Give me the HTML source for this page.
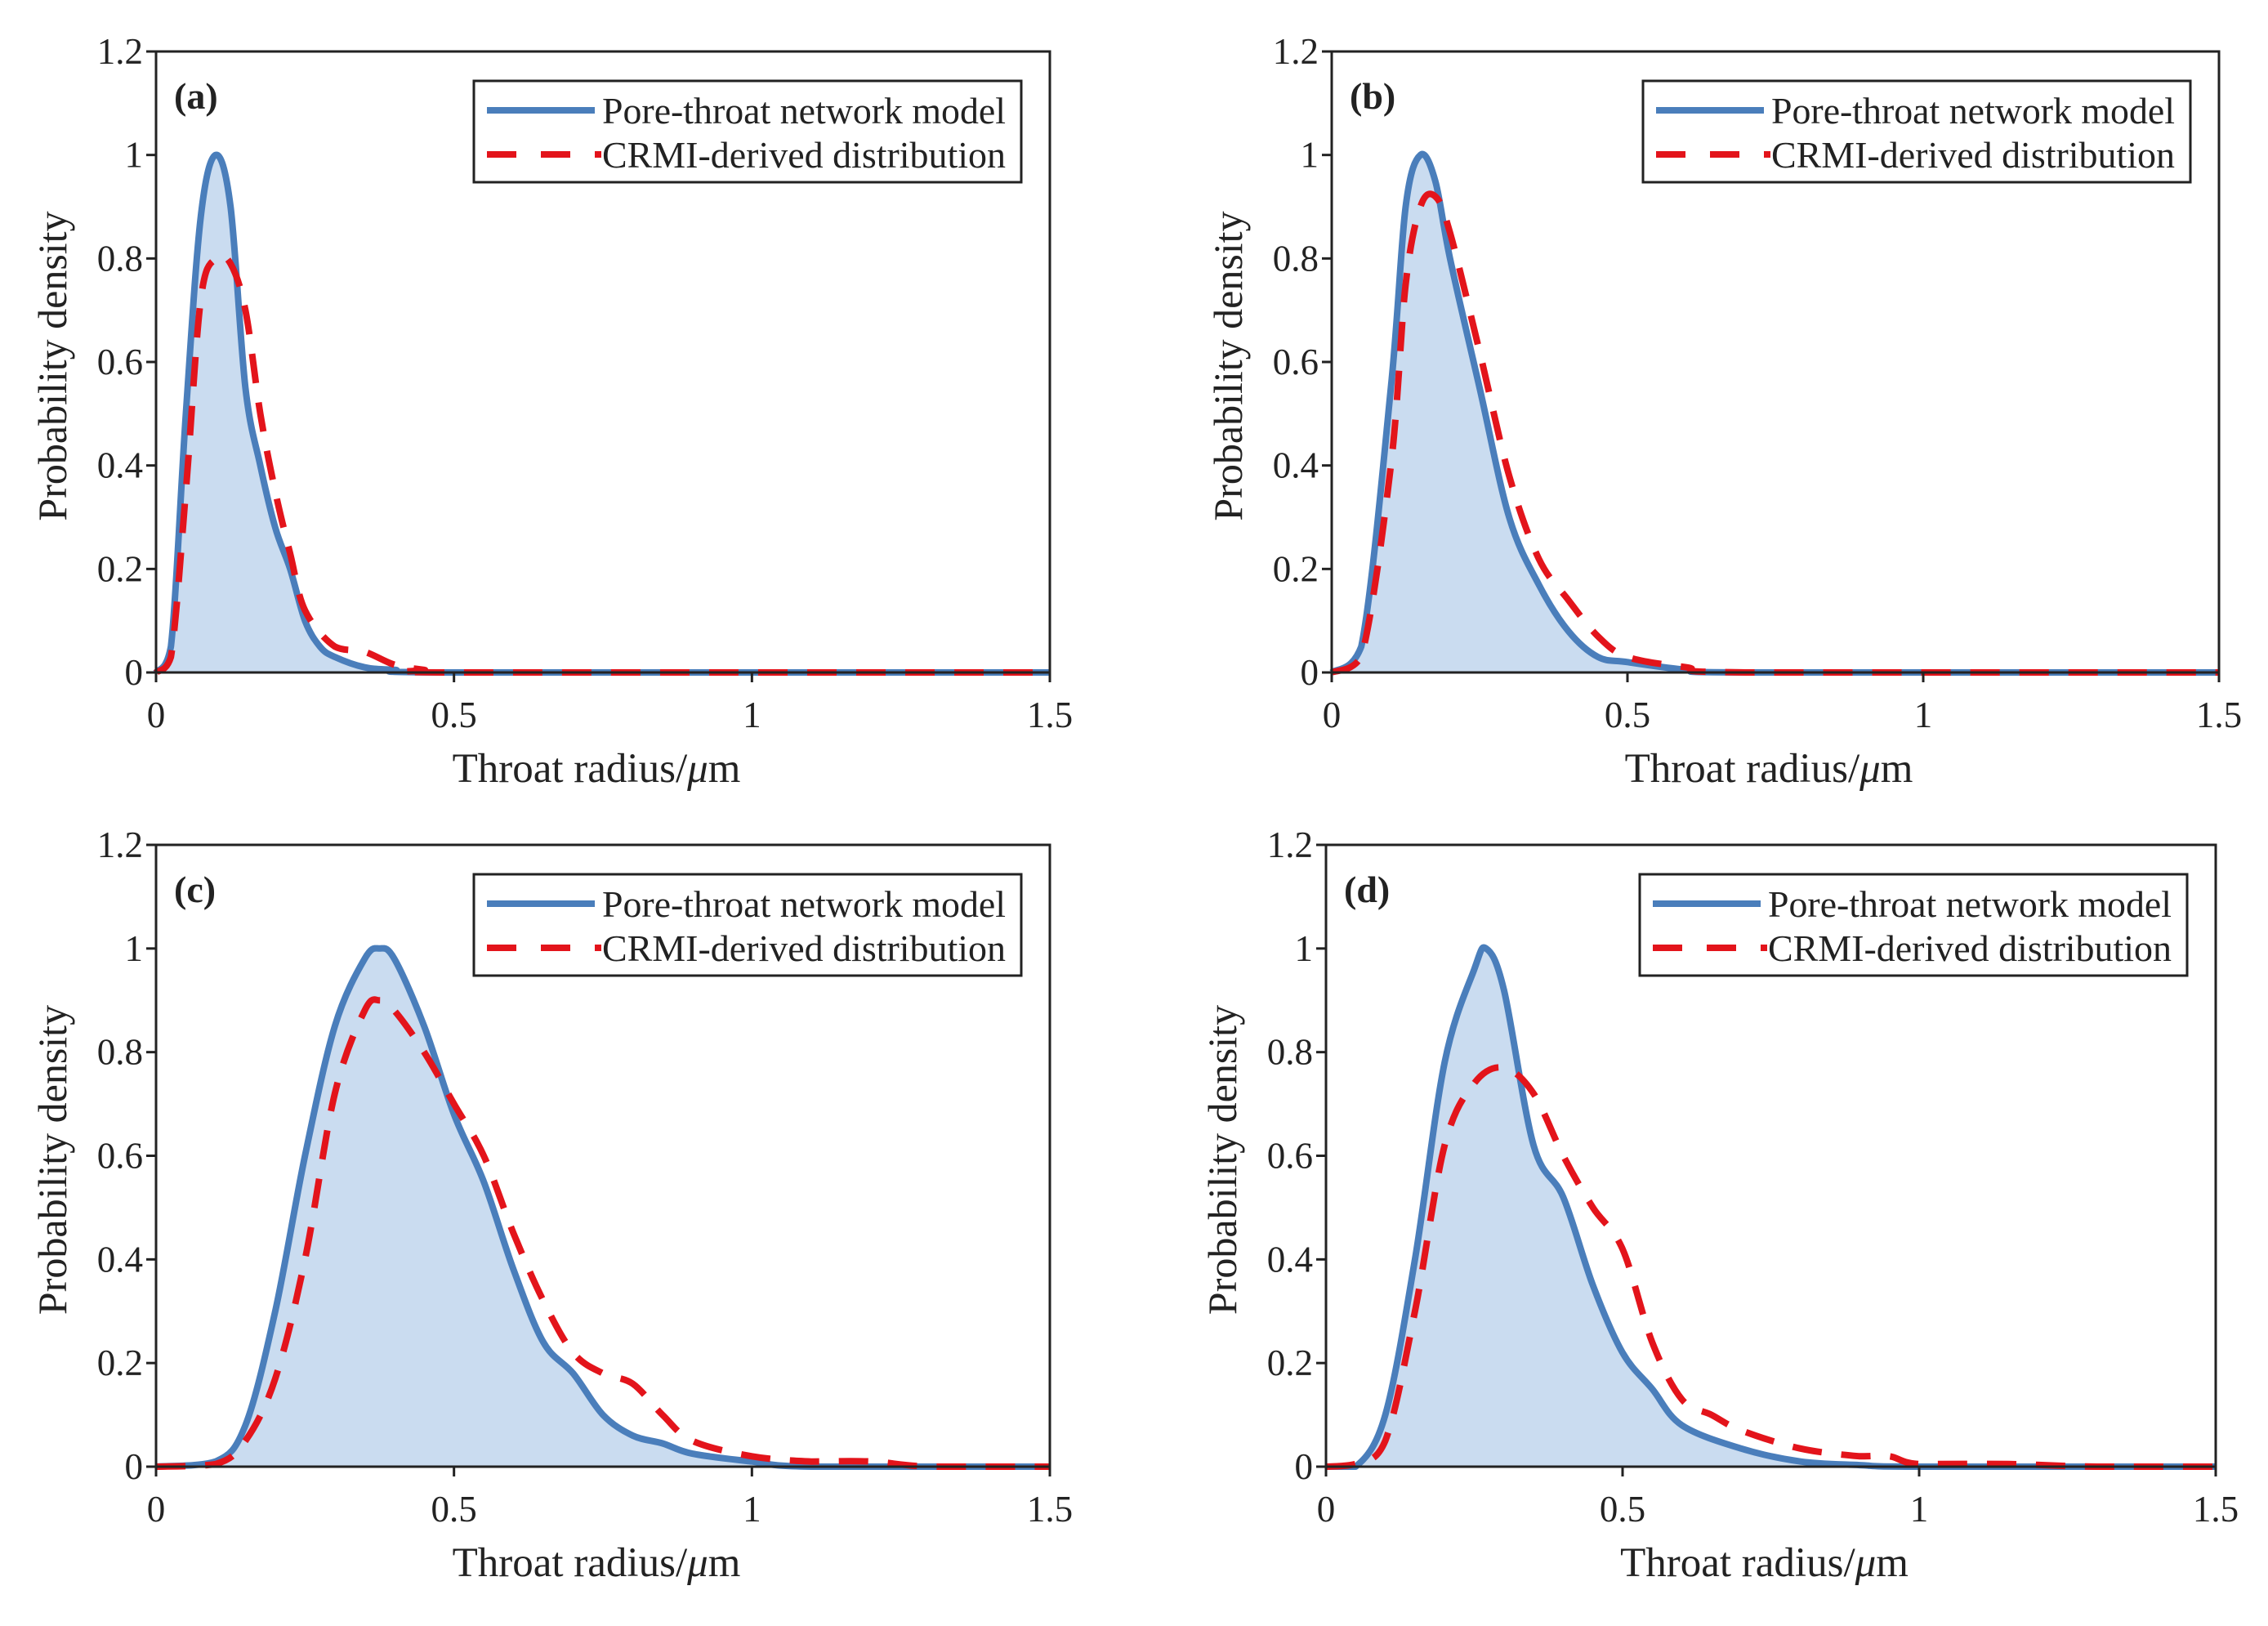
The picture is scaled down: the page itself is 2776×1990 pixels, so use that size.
<!DOCTYPE html>
<html><head><meta charset="utf-8"><style>
html,body{margin:0;padding:0;background:#fff;}
svg text{font-family:"Liberation Serif",serif;fill:#222;}
</style></head><body>
<svg id="fig" xmlns="http://www.w3.org/2000/svg" width="2776" height="1985" viewBox="0 0 2776 1985"></svg>
<script>
// ---- data ----
const yTicks = [0, 0.2, 0.4, 0.6, 0.8, 1, 1.2];
const yTickLabels = ["0","0.2","0.4","0.6","0.8","1","1.2"];
const xTicks = [0, 0.5, 1, 1.5];
const xTickLabels = ["0","0.5","1","1.5"];
const panelLabels = ["(a)","(b)","(c)","(d)"];
const seriesNames = ["Pore-throat network model","CRMI-derived distribution"];

const aBlueX = [0,0.025,0.05,0.075,0.1,0.125,0.15,0.175,0.2,0.225,0.25,0.275,0.3,0.35,0.4,0.5,1.5];
const aBlueY = [0,0.05,0.5,0.88,1.0,0.9,0.55,0.4,0.28,0.2,0.1,0.05,0.03,0.01,0.005,0,0];
const aRedX = [0,0.025,0.05,0.075,0.1,0.125,0.15,0.175,0.2,0.225,0.25,0.3,0.35,0.4,0.45,0.5,1.5];
const aRedY = [0,0.03,0.35,0.72,0.8,0.79,0.7,0.5,0.35,0.23,0.12,0.05,0.04,0.015,0.005,0,0];

const bBlueX = [0,0.05,0.1,0.125,0.15,0.175,0.2,0.25,0.3,0.35,0.4,0.45,0.5,0.6,0.7,1.5];
const bBlueY = [0,0.05,0.55,0.9,1.0,0.95,0.8,0.55,0.3,0.17,0.08,0.03,0.02,0.005,0,0];
const bRedX = [0,0.05,0.1,0.125,0.15,0.175,0.2,0.25,0.3,0.35,0.4,0.45,0.5,0.6,0.7,1.5];
const bRedY = [0,0.03,0.4,0.75,0.9,0.92,0.85,0.62,0.38,0.22,0.14,0.07,0.03,0.01,0,0];

const cBlueX = [0,0.1,0.15,0.2,0.25,0.3,0.35,0.375,0.4,0.45,0.5,0.55,0.6,0.65,0.7,0.75,0.8,0.85,0.9,1.0,1.1,1.5];
const cBlueY = [0,0.01,0.08,0.3,0.6,0.85,0.98,1.0,0.98,0.85,0.68,0.55,0.38,0.24,0.18,0.1,0.06,0.045,0.025,0.01,0,0];
const cRedX = [0,0.1,0.15,0.2,0.25,0.3,0.35,0.375,0.4,0.45,0.5,0.55,0.6,0.65,0.7,0.75,0.8,0.85,0.9,1.0,1.1,1.2,1.3,1.5];
const cRedY = [0,0.005,0.05,0.17,0.4,0.72,0.88,0.9,0.88,0.8,0.7,0.6,0.45,0.32,0.22,0.18,0.16,0.1,0.05,0.02,0.01,0.01,0,0];

const dBlueX = [0,0.05,0.1,0.15,0.2,0.25,0.27,0.3,0.35,0.4,0.45,0.5,0.55,0.6,0.7,0.8,0.9,1.0,1.5];
const dBlueY = [0,0,0.1,0.4,0.78,0.96,1.0,0.92,0.62,0.52,0.35,0.22,0.15,0.08,0.035,0.01,0.003,0,0];
const dRedX = [0,0.05,0.1,0.15,0.2,0.25,0.3,0.35,0.4,0.45,0.5,0.55,0.6,0.65,0.7,0.8,0.9,0.95,1.0,1.15,1.3,1.5];
const dRedY = [0,0.005,0.05,0.3,0.62,0.74,0.77,0.72,0.6,0.5,0.42,0.24,0.13,0.1,0.07,0.035,0.02,0.02,0.005,0.005,0,0];

const panels = [
  {x0:191,x1:1285,yTop:63,yBot:823,bx:aBlueX,by:aBlueY,rx:aRedX,ry:aRedY},
  {x0:1630,x1:2716,yTop:63,yBot:823,bx:bBlueX,by:bBlueY,rx:bRedX,ry:bRedY},
  {x0:191,x1:1285,yTop:1034,yBot:1795,bx:cBlueX,by:cBlueY,rx:cRedX,ry:cRedY},
  {x0:1623,x1:2712,yTop:1034,yBot:1795,bx:dBlueX,by:dBlueY,rx:dRedX,ry:dRedY}
];

const NS = "http://www.w3.org/2000/svg";
const svg = document.getElementById('fig');
function mk(tag, attrs, parent){
  const e = document.createElementNS(NS, tag);
  for (const k in attrs) e.setAttribute(k, attrs[k]);
  (parent||svg).appendChild(e);
  return e;
}
function smoothPath(pts){
  let d = "M"+pts[0][0].toFixed(1)+","+pts[0][1].toFixed(1);
  for (let i=0;i<pts.length-1;i++){
    const p0=pts[Math.max(0,i-1)], p1=pts[i], p2=pts[i+1], p3=pts[Math.min(pts.length-1,i+2)];
    const t=6;
    let c1y=p1[1]+(p2[1]-p0[1])/t, c2y=p2[1]-(p3[1]-p1[1])/t;
    const base=Math.max(p1[1],p2[1]);
    c1y=Math.min(c1y,base); c2y=Math.min(c2y,base);
    d+=" C"+(p1[0]+(p2[0]-p0[0])/t).toFixed(1)+","+c1y.toFixed(1)+" "+(p2[0]-(p3[0]-p1[0])/t).toFixed(1)+","+c2y.toFixed(1)+" "+p2[0].toFixed(1)+","+p2[1].toFixed(1);
  }
  return d;
}

panels.forEach((p, i) => {
  const g = mk('g', {});
  
  
  const sx = v => p.x0 + (v/1.5)*(p.x1-p.x0);
  const sy = v => p.yBot - (v/1.2)*(p.yBot-p.yTop);

  const bPts = p.bx.map((x,k)=>[sx(x), sy(p.by[k])]);
  const rPts = p.rx.map((x,k)=>[sx(x), sy(p.ry[k])]);
  const bd = smoothPath(bPts);

  const fill = mk('path', {d: bd + " L"+sx(1.5)+","+sy(0)+" L"+sx(0)+","+sy(0)+" Z", fill:"#cadcf0", stroke:"none"}, g);
  
  

  const bl = mk('path', {d: bd, fill:"none", stroke:"#4a7ebb", "stroke-width":8, "stroke-linejoin":"round"}, g);
  
  

  const rl = mk('path', {d: smoothPath(rPts), fill:"none", stroke:"#e3141b", "stroke-width":8, "stroke-dasharray":"36 24"}, g);
  
  

  const frame = mk('rect', {x:p.x0, y:p.yTop, width:p.x1-p.x0, height:p.yBot-p.yTop, fill:"none", stroke:"#222", "stroke-width":3}, g);
  
  

  yTicks.forEach((v,k) => {
    const t = mk('line', {x1:p.x0-12, x2:p.x0, y1:sy(v), y2:sy(v), stroke:"#222", "stroke-width":3}, g);
    
    
    const tl = mk('text', {x:p.x0-16, y:sy(v)+15, "text-anchor":"end", "font-size":45}, g);
    
    
    tl.textContent = yTickLabels[k];
  });
  xTicks.forEach((v,k) => {
    const t = mk('line', {x1:sx(v), x2:sx(v), y1:p.yBot, y2:p.yBot+12, stroke:"#222", "stroke-width":3}, g);
    
    
    const tl = mk('text', {x:sx(v), y:p.yBot+67, "text-anchor":"middle", "font-size":45}, g);
    
    
    tl.textContent = xTickLabels[k];
  });

  const xt = mk('text', {x:(p.x0+p.x1)/2 - 8, y:p.yBot+134, "text-anchor":"middle", "font-size":51}, g);
  
  
  xt.innerHTML = 'Throat radius/<tspan font-style="italic">μ</tspan>m';

  const cy = (p.yTop+p.yBot)/2 + 5;
  const tx = p.x0-110;
  const yt = mk('text', {x:tx, y:cy, "text-anchor":"middle", "font-size":50, transform:"rotate(-90 "+tx+" "+cy+")"}, g);
  
  
  yt.textContent = "Probability density";

  const pl = mk('text', {x:p.x0+22, y:p.yTop+70, "font-size":46, "font-weight":"bold"}, g);
  
  
  pl.textContent = panelLabels[i];

  const lx = p.x1 - 705, ly = p.yTop + 36;
  const leg = mk('g', {}, g);
  
  
  mk('rect', {x:lx, y:ly, width:670, height:124, fill:"#fff", stroke:"#222", "stroke-width":3}, leg);
  const e1 = mk('line', {x1:lx+16, x2:lx+148, y1:ly+36, y2:ly+36, stroke:"#4a7ebb", "stroke-width":8}, leg);
  
  
  const e2 = mk('line', {x1:lx+16, x2:lx+156, y1:ly+90, y2:ly+90, stroke:"#e3141b", "stroke-width":8, "stroke-dasharray":"36 30"}, leg);
  
  
  const t1 = mk('text', {x:lx+157, y:ly+52, "font-size":46, textLength:494, lengthAdjust:"spacingAndGlyphs"}, leg);
  
  
  t1.textContent = seriesNames[0];
  const t2 = mk('text', {x:lx+157, y:ly+106, "font-size":46, textLength:494, lengthAdjust:"spacingAndGlyphs"}, leg);
  
  
  t2.textContent = seriesNames[1];
});
</script>
</body></html>
